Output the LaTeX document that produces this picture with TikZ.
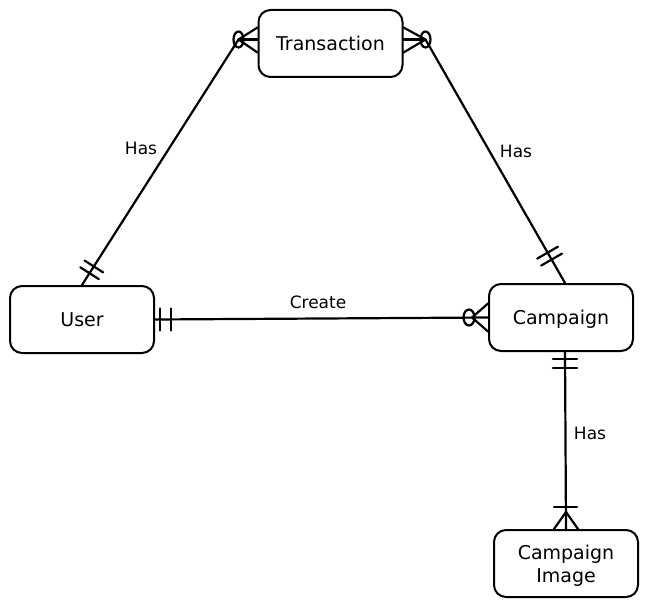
\documentclass[tikz,border=0pt]{standalone}
\usepackage{fontspec}
\setmainfont{DejaVu Sans}
\usetikzlibrary{calc}
\begin{document}
\begin{tikzpicture}[x=1pt,y=-1pt,
  ent/.style={draw, line width=2pt, rounded corners=12pt, minimum width=144pt, minimum height=67pt, font=\fontsize{19}{23}\selectfont, align=center, text depth=0pt},
  rel/.style={line width=2.2pt, line cap=round},
  lbl/.style={font=\fontsize{17}{20}\selectfont}]
\useasboundingbox[fill=white] (0,0) rectangle (647,607);
\node[ent] (trans) at (330.5,43.5) {Transaction};
\node[ent] (user) at (82,319.5) {User};
\node[ent] (camp) at (561,317.5) {Campaign};
\node[ent] (img) at (566,563.5) {Campaign\\Image};

% User -- Transaction
\coordinate (tL) at ($(trans.west)+(-19,-4)$);
\draw[rel] (user.north) -- (tL);
\draw[rel] (tL) -- ($(trans.west)+(0,-16)$);
\draw[rel] (tL) -- ($(trans.west)+(0,-4)$);
\draw[rel] (tL) -- ($(trans.west)+(0,9)$);
\draw[rel] (tL) ellipse [x radius=5, y radius=8];
\draw[rel] ($(user.north)!14pt!(tL)!11pt!90:(tL)$) -- ($(user.north)!14pt!(tL)!11pt!-90:(tL)$);
\draw[rel] ($(user.north)!22pt!(tL)!11pt!90:(tL)$) -- ($(user.north)!22pt!(tL)!11pt!-90:(tL)$);
\node[lbl] (l1) at (141,148) {Has};

% Transaction -- Campaign
\coordinate (tR) at ($(trans.east)+(22,-4)$);
\coordinate (cT) at ($(camp.north)+(4,0)$);
\draw[rel] (cT) -- (tR);
\draw[rel] (tR) -- ($(trans.east)+(0,-16)$);
\draw[rel] (tR) -- ($(trans.east)+(0,-4)$);
\draw[rel] (tR) -- ($(trans.east)+(0,9)$);
\draw[rel] (tR) ellipse [x radius=5, y radius=8];
\draw[rel] ($(cT)!27pt!(tR)!12pt!90:(tR)$) -- ($(cT)!27pt!(tR)!12pt!-90:(tR)$);
\draw[rel] ($(cT)!35pt!(tR)!12pt!90:(tR)$) -- ($(cT)!35pt!(tR)!12pt!-90:(tR)$);
\node[lbl] (l2) at (516,151) {Has};

% User -- Campaign
\coordinate (cL) at ($(camp.west)+(-19,0)$);
\draw[rel] (user.east) -- (camp.west);
\draw[rel] ($(user.east)+(5,-11)$) -- ($(user.east)+(5,11)$);
\draw[rel] ($(user.east)+(16,-11)$) -- ($(user.east)+(16,11)$);
\draw[rel] ($(cL)+(3,0)$) -- ($(camp.west)+(0,-14)$);
\draw[rel] ($(cL)+(3,0)$) -- ($(camp.west)+(0,14)$);
\draw[rel] (cL) ellipse [x radius=5.5, y radius=8];
\node[lbl] (l3) at (318,302) {Create};

% Campaign -- Campaign Image
\coordinate (cB) at ($(camp.south)+(4,0)$);
\coordinate (iT) at (img.north);
\coordinate (iA) at ($(img.north)+(0,-17)$);
\draw[rel] (cB) -- (iT);
\draw[rel] ($(cB)+(-12,7)$) -- ($(cB)+(12,7)$);
\draw[rel] ($(cB)+(-12,16)$) -- ($(cB)+(12,16)$);
\draw[rel] (iA) -- ($(iT)+(-12,0)$);
\draw[rel] (iA) -- ($(iT)+(12,0)$);
\draw[rel] ($(iT)+(-12,-22)$) -- ($(iT)+(11,-22)$);
\node[lbl] (l4) at (590,433) {Has};
\end{tikzpicture}
\end{document}
